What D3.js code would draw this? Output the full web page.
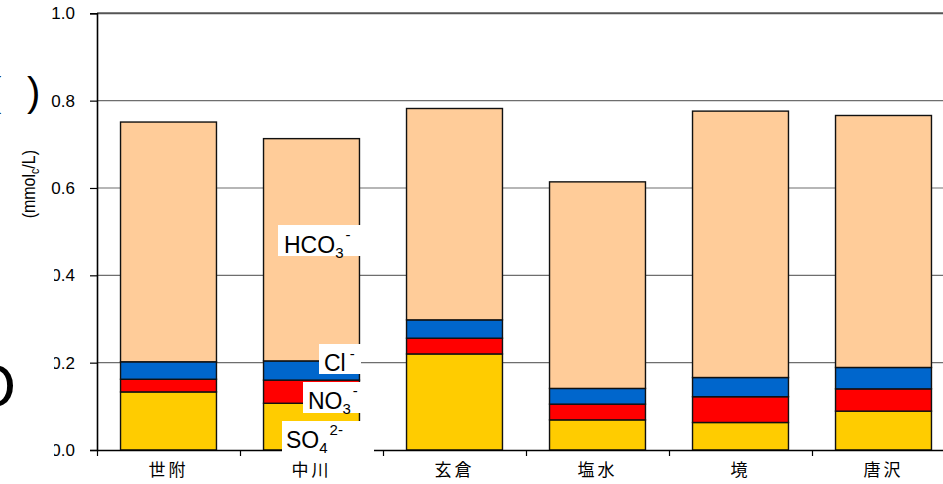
<!DOCTYPE html>
<html>
<head>
<meta charset="utf-8">
<script src="https://cdn.jsdelivr.net/npm/d3@7"></script>
<style>
  html, body { margin: 0; padding: 0; background: #fff; }
  svg { display: block; }
</style>
</head>
<body>
<script>
// ---- data ----
const categories = ["世附", "中川", "玄倉", "塩水", "境", "唐沢"];
const so4  = [0.133, 0.107, 0.220, 0.069, 0.063, 0.089];
const no3  = [0.029, 0.053, 0.036, 0.036, 0.059, 0.051];
const cl   = [0.040, 0.044, 0.042, 0.036, 0.044, 0.049];
const hco3 = [0.549, 0.509, 0.484, 0.473, 0.610, 0.577];
const seriesKeys = ["SO4", "NO3", "Cl", "HCO3"];
const seriesColors = ["#FFCC00", "#FF0000", "#0066CC", "#FFCC99"];
const yTicks = [0, 0.2, 0.4, 0.6, 0.8, 1.0];

const W = 943, H = 484;
const x0 = 97, step = 143, y0 = 450, y1 = 13.3;

const svg = d3.select("body").append("svg").attr("width", W).attr("height", H);
svg.append("rect").attr("width", W).attr("height", H).attr("fill", "#fff");

const x = d3.scaleBand().domain(categories)
  .range([x0, x0 + step * categories.length])
  .paddingInner(0.329).paddingOuter(0.1645);
const y = d3.scaleLinear().domain([0, 1]).range([y0, y1]);
const xIdx = d3.scaleLinear().domain([0, categories.length]).range([x0, x0 + step * categories.length]);

// gridlines
svg.append("g").selectAll("line").data(yTicks.filter(d => d > 0)).join("line")
  .attr("x1", x0).attr("x2", x0 + step * categories.length)
  .attr("y1", d => y(d)).attr("y2", d => y(d))
  .attr("stroke", d => d === 1 ? "#555" : "#6e6e6e")
  .attr("stroke-width", d => d === 1 ? 2 : 1.2);

// stacked bars
const rows = categories.map((c, i) => ({cat: c, SO4: so4[i], NO3: no3[i], Cl: cl[i], HCO3: hco3[i]}));
const stacked = d3.stack().keys(seriesKeys)(rows);
svg.append("g").selectAll("g").data(stacked).join("g")
  .attr("fill", (d, i) => seriesColors[i])
  .selectAll("rect").data(d => d).join("rect")
  .attr("x", d => x(d.data.cat))
  .attr("width", x.bandwidth())
  .attr("y", d => y(d[1]))
  .attr("height", d => y(d[0]) - y(d[1]))
  .attr("stroke", "#111").attr("stroke-width", 1.4);

// y axis
const yAxis = svg.append("g").attr("transform", `translate(${x0},0)`)
  .call(d3.axisLeft(y).tickValues(yTicks).tickFormat(d3.format(".1f")).tickSize(7).tickPadding(15));
yAxis.select(".domain").attr("stroke", "#000").attr("stroke-width", 1.6);
yAxis.selectAll(".tick line").attr("stroke", "#000").attr("stroke-width", 1.2);
yAxis.selectAll(".tick text").attr("font-family", "'Liberation Sans', Arial, sans-serif")
  .attr("font-size", 17).attr("fill", "#000");

// x axis (boundary ticks)
const xAxisTicks = svg.append("g").attr("transform", `translate(0,${y0})`)
  .call(d3.axisBottom(xIdx).tickValues(d3.range(0, categories.length + 1)).tickFormat("").tickSize(6).tickSizeOuter(0));
xAxisTicks.select(".domain").attr("stroke", "#000").attr("stroke-width", 1.6);
xAxisTicks.selectAll(".tick line").attr("stroke", "#000").attr("stroke-width", 1.2);

// x axis labels
const xAxis = svg.append("g").attr("transform", `translate(0,${y0})`)
  .call(d3.axisBottom(x).tickSize(0).tickPadding(14));
xAxis.select(".domain").remove();
xAxis.selectAll(".tick text")
  .attr("font-family", "'Noto Sans CJK JP', sans-serif")
  .attr("font-size", 17).attr("letter-spacing", 3).attr("fill", "#000");

// y axis title (partly hidden)
const yt = svg.append("text")
  .attr("transform", "translate(35,150) rotate(-90) scale(1,1.15)")
  .attr("text-anchor", "end")
  .attr("font-family", "'Liberation Sans', Arial, 'Noto Sans CJK JP', sans-serif")
  .attr("font-size", 16).attr("fill", "#000");
yt.append("tspan").text("陰イオン当量(mmol");
yt.append("tspan").attr("font-size", 10.5).attr("dy", 3.5).text("c");
yt.append("tspan").attr("dy", -3.5).text("/L)");

// in-chart series labels
const labelDefs = [
  {base: "HCO", sub: "3", sup: "-", bx: 278, by: 225, bw: 83, bh: 31, tx: 284, ty: 253},
  {base: "Cl",  sub: "",  sup: "-", bx: 319, by: 344, bw: 42, bh: 30, tx: 324, ty: 371},
  {base: "NO",  sub: "3", sup: "-", bx: 303, by: 382, bw: 61, bh: 31, tx: 308, ty: 409},
  {base: "SO",  sub: "4", sup: "2-", bx: 282, by: 421, bw: 92, bh: 31, tx: 286, ty: 448}
];
const lg = svg.append("g");
labelDefs.forEach(d => {
  lg.append("rect").attr("x", d.bx).attr("y", d.by).attr("width", d.bw).attr("height", d.bh).attr("fill", "#fff");
  const t = lg.append("text").attr("x", d.tx).attr("y", d.ty)
    .attr("font-family", "'Liberation Sans', Arial, sans-serif").attr("font-size", 23).attr("fill", "#000");
  t.append("tspan").text(d.base);
  if (d.sub) t.append("tspan").attr("font-size", 15).attr("dy", 5).text(d.sub);
  t.append("tspan").attr("font-size", 15).attr("dy", d.sub ? -18 : -12).attr("dx", d.sub ? 2 : 4).text(d.sup);
});

// cropped decorations at the left edge
svg.append("rect").attr("x", 0).attr("y", 219).attr("width", 54).attr("height", H - 219).attr("fill", "#fff");
svg.append("text").attr("x", 27).attr("y", 106)
  .attr("font-family", "'Liberation Sans', Arial, sans-serif").attr("font-size", 40).text(")");
svg.append("text").attr("x", -12).attr("y", 106)
  .attr("font-family", "'Liberation Sans', Arial, sans-serif").attr("font-size", 40).text("(");
svg.append("text").attr("x", 16).attr("y", 407).attr("text-anchor", "end")
  .attr("font-family", "'Liberation Sans', Arial, sans-serif").attr("font-size", 62).text("O");
</script>
</body>
</html>
